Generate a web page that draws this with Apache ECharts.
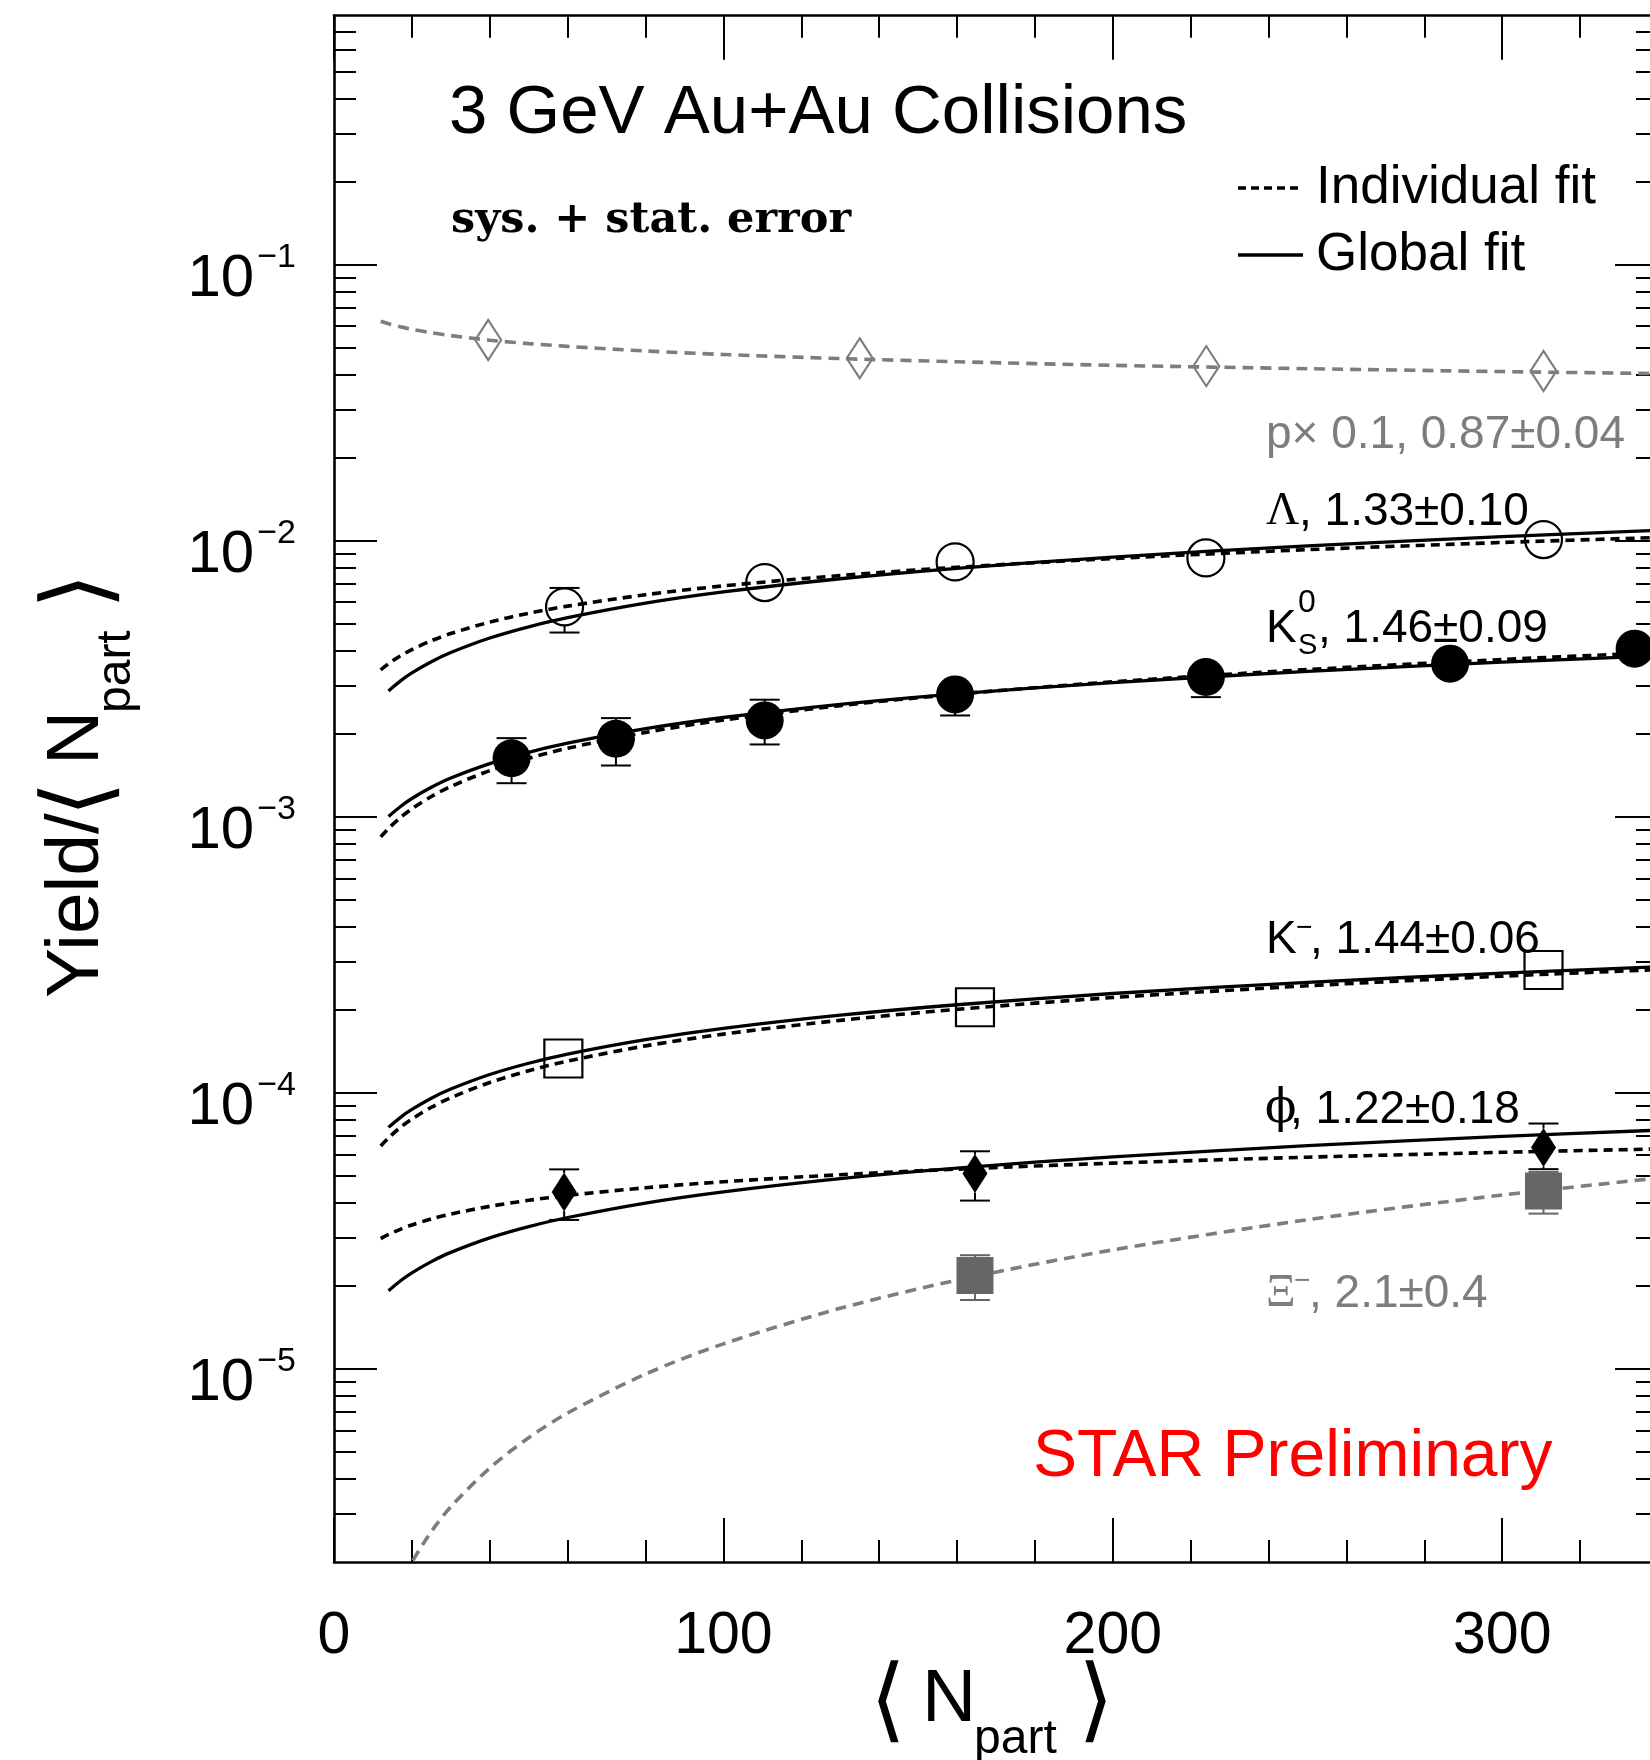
<!DOCTYPE html>
<html>
<head>
<meta charset="utf-8">
<script src="https://cdn.jsdelivr.net/npm/echarts@6/dist/echarts.min.js"></script>
<style>
  html, body { margin: 0; padding: 0; background: #fff; overflow: hidden; }
  #chart { width: 1650px; height: 1760px; }
</style>
</head>
<body>
<div id="chart"></div>
<script>
// axis ranges / ticks
const xMin = 0, xMax = 340;
const yMin = 2e-6, yMax = 0.8;
const xMajorTicks = [0, 100, 200, 300];
const xMinorTicks = [20, 40, 60, 80, 120, 140, 160, 180, 220, 240, 260, 280, 320];
const yMajorTicks = [1e-5, 1e-4, 1e-3, 1e-2, 1e-1];

const fitN = [12, 14, 17, 20, 25, 30, 40, 50, 60, 80, 100, 130, 160, 200, 250, 300, 340];
const globalN = [14, 17, 20, 25, 30, 40, 50, 60, 80, 100, 130, 160, 200, 250, 300, 340];
const xiFitN = [18, 20, 25, 30, 40, 50, 60, 80, 100, 130, 160, 200, 250, 300, 340];

// individual fits (dashed)
const protonFit = [0.0625, 0.0612, 0.0597, 0.0585, 0.0568, 0.0555, 0.0534, 0.0519, 0.0507, 0.0488, 0.0474, 0.0458, 0.0446, 0.0433, 0.0421, 0.0411, 0.0404];
const lambdaFit = [3.415e-3, 3.593e-3, 3.831e-3, 4.042e-3, 4.351e-3, 4.620e-3, 5.082e-3, 5.470e-3, 5.809e-3, 6.387e-3, 6.876e-3, 7.498e-3, 8.030e-3, 8.642e-3, 9.302e-3, 9.877e-3, 1.030e-2];
const k0sFit = [8.47e-4, 9.09e-4, 9.94e-4, 1.071e-3, 1.187e-3, 1.290e-3, 1.473e-3, 1.632e-3, 1.775e-3, 2.026e-3, 2.245e-3, 2.533e-3, 2.787e-3, 3.089e-3, 3.422e-3, 3.722e-3, 3.943e-3];
const kmFit = [6.43e-5, 6.88e-5, 7.50e-5, 8.05e-5, 8.88e-5, 9.62e-5, 1.092e-4, 1.205e-4, 1.306e-4, 1.482e-4, 1.635e-4, 1.834e-4, 2.010e-4, 2.218e-4, 2.447e-4, 2.651e-4, 2.801e-4];
const phiFit = [2.969e-5, 3.073e-5, 3.209e-5, 3.328e-5, 3.498e-5, 3.644e-5, 3.887e-5, 4.086e-5, 4.256e-5, 4.538e-5, 4.771e-5, 5.060e-5, 5.300e-5, 5.571e-5, 5.856e-5, 6.100e-5, 6.273e-5];
const xiFit = [1.78e-6, 2.00e-6, 2.58e-6, 3.17e-6, 4.38e-6, 5.64e-6, 6.93e-6, 9.59e-6, 1.234e-5, 1.660e-5, 2.099e-5, 2.702e-5, 3.475e-5, 4.272e-5, 4.920e-5];

// global fits (solid)
const lambdaGlobal = [2.863e-3, 3.106e-3, 3.326e-3, 3.652e-3, 3.943e-3, 4.451e-3, 4.888e-3, 5.276e-3, 5.954e-3, 6.539e-3, 7.299e-3, 7.965e-3, 8.747e-3, 9.607e-3, 1.0373e-2, 1.0932e-2];
const k0sGlobal = [1.005e-3, 1.090e-3, 1.167e-3, 1.281e-3, 1.384e-3, 1.561e-3, 1.715e-3, 1.851e-3, 2.089e-3, 2.294e-3, 2.561e-3, 2.795e-3, 3.069e-3, 3.370e-3, 3.639e-3, 3.836e-3];
const kmGlobal = [7.51e-5, 8.15e-5, 8.72e-5, 9.58e-5, 1.034e-4, 1.167e-4, 1.282e-4, 1.384e-4, 1.561e-4, 1.715e-4, 1.914e-4, 2.089e-4, 2.294e-4, 2.519e-4, 2.720e-4, 2.867e-4];
const phiGlobal = [1.922e-5, 2.085e-5, 2.232e-5, 2.451e-5, 2.647e-5, 2.987e-5, 3.281e-5, 3.541e-5, 3.996e-5, 4.388e-5, 4.899e-5, 5.346e-5, 5.871e-5, 6.447e-5, 6.962e-5, 7.337e-5];

// measured points
const protonN = [39.6, 135, 224, 310.6];
const protonY = [0.0535, 0.0459, 0.0430, 0.0413];
const lambdaN = [59.2, 110.6, 159.5, 223.9, 310.6];
const lambdaY = [5.77e-3, 7.07e-3, 8.40e-3, 8.68e-3, 1.012e-2];
const lambdaLo = [4.66e-3, 6.75e-3, 8.0e-3, 8.3e-3, 9.7e-3];
const lambdaHi = [6.76e-3, 7.4e-3, 8.8e-3, 9.1e-3, 1.055e-2];
const k0sN = [45.6, 72.4, 110.6, 159.5, 223.9, 286.6, 334];
const k0sY = [1.633e-3, 1.922e-3, 2.239e-3, 2.781e-3, 3.214e-3, 3.594e-3, 4.074e-3];
const k0sLo = [1.326e-3, 1.537e-3, 1.832e-3, 2.333e-3, 2.719e-3, 3.35e-3, 3.80e-3];
const k0sHi = [1.931e-3, 2.282e-3, 2.661e-3, 3.23e-3, 3.71e-3, 3.84e-3, 4.35e-3];
const kmN = [58.9, 164.6, 310.6];
const kmY = [1.334e-4, 2.046e-4, 2.791e-4];
const phiN = [59.1, 164.6, 310.6];
const phiY = [4.376e-5, 5.107e-5, 6.345e-5];
const phiLo = [3.470e-5, 4.077e-5, 5.30e-5];
const phiHi = [5.290e-5, 6.152e-5, 7.755e-5];
const xiN = [164.6, 310.6];
const xiY = [2.182e-5, 4.418e-5];
const xiLo = [1.779e-5, 3.658e-5];
const xiHi = [2.585e-5, 5.18e-5];

const GRAY = '#7d7d7d';
const SANS = 'Liberation Sans';

const yMinorTicks = [];
for (let e = -6; e <= -1; e++) {
  for (let m = 2; m <= 9; m++) {
    const v = m * Math.pow(10, e);
    if (v > yMin && v < yMax) yMinorTicks.push(Math.log10(v));
  }
}

const chart = echarts.init(document.getElementById('chart'));

function zip(xs, ys) {
  return xs.map((x, i) => [x, ys[i]]);
}

function fitLine(xs, ys, color, dashed) {
  let type = 'solid';
  if (dashed) type = color === GRAY ? [11, 7] : [9, 6];
  return {
    type: 'line', xAxisIndex: 0, yAxisIndex: 0, z: 2,
    data: zip(xs, ys), symbol: 'none', smooth: 0.3, silent: true,
    lineStyle: { color: color, width: dashed ? 3.6 : 3.3, type: type, opacity: 1 }
  };
}

function points(xs, ys, symbol, size, fill, stroke) {
  return {
    type: 'scatter', xAxisIndex: 0, yAxisIndex: 0, z: 5,
    data: zip(xs, ys), symbol: symbol, symbolSize: size, silent: true,
    itemStyle: { color: fill, borderColor: stroke, borderWidth: fill === 'none' ? 2.2 : 0, opacity: 1 }
  };
}

// error bars, drawn only outside the marker
function errBars(xs, ys, lo, hi, half, color) {
  return {
    type: 'custom', xAxisIndex: 0, yAxisIndex: 0, z: 4, silent: true,
    data: xs.map((x, i) => [x, ys[i], lo[i], hi[i]]),
    renderItem: function (params, api) {
      const c = api.coord([api.value(0), api.value(1)]);
      const pl = api.coord([api.value(0), api.value(2)]);
      const ph = api.coord([api.value(0), api.value(3)]);
      const st = { stroke: color, lineWidth: 2 };
      const kids = [];
      if (c[1] - ph[1] > half) {
        kids.push({ type: 'line', shape: { x1: c[0], y1: c[1] - half, x2: c[0], y2: ph[1] }, style: st });
        kids.push({ type: 'line', shape: { x1: c[0] - 15, y1: ph[1], x2: c[0] + 15, y2: ph[1] }, style: st });
      }
      if (pl[1] - c[1] > half) {
        kids.push({ type: 'line', shape: { x1: c[0], y1: c[1] + half, x2: c[0], y2: pl[1] }, style: st });
        kids.push({ type: 'line', shape: { x1: c[0] - 15, y1: pl[1], x2: c[0] + 15, y2: pl[1] }, style: st });
      }
      return { type: 'group', children: kids };
    }
  };
}

// text with its baseline at y
function txt(x, y, text, size, color, family, weight) {
  return {
    type: 'text', x: x, y: y - 0.345 * size, silent: true,
    style: {
      text: text, fontSize: size, fontFamily: family || SANS, fontWeight: weight || 'normal',
      fill: color || '#000', verticalAlign: 'middle', align: 'left'
    }
  };
}

function bracket(x, y, ch) {
  return {
    type: 'text', x: x, y: y, silent: true,
    style: { text: ch, fontSize: 92, fontFamily: 'DejaVu Sans', fontWeight: 200, fill: '#000', verticalAlign: 'middle', align: 'left' }
  };
}

// ⟨ N_part ⟩ built from its pieces, origin at the left bracket, baseline 0
function nPart(x0) {
  return [
    bracket(x0 - 7, -20, '\u27E8'),
    txt(x0 + 45, 0, 'N', 75),
    txt(x0 + 97, 30, 'part', 48),
    bracket(x0 + 201, -20, '\u27E9')
  ];
}

function tickAxis(dim, position, values, len, withLine, withLabel) {
  const ax = {
    type: 'value', position: position,
    min: dim === 'x' ? xMin : Math.log10(yMin),
    max: dim === 'x' ? xMax : Math.log10(yMax),
    splitLine: { show: false },
    axisLine: { show: withLine, onZero: false, lineStyle: { color: '#000', width: 2.6 } },
    axisTick: { show: true, inside: true, length: len, customValues: values, lineStyle: { color: '#000', width: 2 } },
    axisLabel: { show: false }
  };
  if (withLabel && dim === 'x') {
    ax.axisLabel = {
      show: true, customValues: values, margin: 45,
      fontSize: 59, fontFamily: SANS, color: '#000'
    };
  }
  if (withLabel && dim === 'y') {
    ax.axisLabel = {
      show: true, customValues: values, margin: 38,
      formatter: function (v) {
        return '{b|10}{s|\u2212' + Math.abs(Math.round(v)) + '}';
      },
      rich: {
        b: { fontSize: 60, fontFamily: SANS, color: '#000', padding: [29, 0, 0, 0] },
        s: { fontSize: 34, fontFamily: SANS, color: '#000', verticalAlign: 'top', padding: [20, 0, 0, 3] }
      }
    };
  }
  return ax;
}

const yMajorLog = yMajorTicks.map(v => Math.log10(v));

const option = {
  animation: false,
  backgroundColor: '#fff',
  grid: { left: 334, top: 15.7, width: 1324, height: 1546.3, containLabel: false, outerBoundsMode: 'none' },
  xAxis: [
    tickAxis('x', 'bottom', xMajorTicks, 44, true, true),
    tickAxis('x', 'bottom', xMinorTicks, 22, false, false),
    tickAxis('x', 'top', xMajorTicks, 44, true, false),
    tickAxis('x', 'top', xMinorTicks, 22, false, false)
  ],
  yAxis: [
    // data axis
    { type: 'log', min: yMin, max: yMax, show: false },
    tickAxis('y', 'left', yMajorLog, 43, true, true),
    tickAxis('y', 'left', yMinorTicks, 22, false, false),
    tickAxis('y', 'right', yMajorLog, 43, true, false),
    tickAxis('y', 'right', yMinorTicks, 22, false, false)
  ],
  series: [
    fitLine(fitN, protonFit, GRAY, true),
    fitLine(fitN, lambdaFit, '#000', true),
    fitLine(globalN, lambdaGlobal, '#000', false),
    fitLine(fitN, k0sFit, '#000', true),
    fitLine(globalN, k0sGlobal, '#000', false),
    fitLine(fitN, kmFit, '#000', true),
    fitLine(globalN, kmGlobal, '#000', false),
    fitLine(fitN, phiFit, '#000', true),
    fitLine(globalN, phiGlobal, '#000', false),
    fitLine(xiFitN, xiFit, GRAY, true),

    errBars(lambdaN, lambdaY, lambdaLo, lambdaHi, 18, '#000'),
    errBars(k0sN, k0sY, k0sLo, k0sHi, 18.5, '#000'),
    errBars(phiN, phiY, phiLo, phiHi, 19, '#000'),
    errBars(xiN, xiY, xiLo, xiHi, 18, '#666'),

    points(protonN, protonY, 'diamond', [26, 40], 'none', GRAY),
    points(lambdaN, lambdaY, 'circle', 37, 'none', '#000'),
    points(k0sN, k0sY, 'circle', 38, '#000', '#000'),
    points(kmN, kmY, 'rect', [38, 38], 'none', '#000'),
    points(phiN, phiY, 'diamond', [25, 39], '#000', '#000'),
    points(xiN, xiY, 'rect', [37, 37], '#666', '#666')
  ],
  graphic: [
    txt(449, 138, '3 GeV Au+Au Collisions', 69),
    txt(451, 236, 'sys. + stat. error', 43, '#000', 'DejaVu Serif', 'bold'),

    // legend
    { type: 'line', silent: true, shape: { x1: 1238, y1: 188, x2: 1303, y2: 188 }, style: { stroke: '#000', lineWidth: 3.5, lineDash: [8, 5] } },
    { type: 'line', silent: true, shape: { x1: 1238, y1: 255, x2: 1303, y2: 255 }, style: { stroke: '#000', lineWidth: 3.5 } },
    txt(1316, 207, 'Individual fit', 53),
    txt(1316, 274, 'Global fit', 53),

    // curve labels
    txt(1266, 451, 'p\u00D7 0.1, 0.87\u00B10.04', 46, GRAY),
    txt(1266, 528, '\u039B', 46, '#000', 'Liberation Serif'),
    txt(1299, 528, ', 1.33\u00B10.10', 46),
    txt(1266, 645, 'K', 46),
    txt(1298, 614, '0', 32),
    txt(1298, 656, 'S', 29),
    txt(1318, 645, ', 1.46\u00B10.09', 46),
    txt(1266, 956, 'K', 46),
    txt(1296, 938, '\u2212', 28),
    txt(1310, 956, ', 1.44\u00B10.06', 46),
    txt(1265, 1126, '\u03D5', 46, '#000', 'DejaVu Serif'),
    txt(1290, 1126, ', 1.22\u00B10.18', 46),
    txt(1266, 1310, '\u039E', 46, GRAY, 'Liberation Serif'),
    txt(1294, 1291, '\u2212', 28, GRAY),
    txt(1309, 1310, ', 2.1\u00B10.4', 46, GRAY),

    txt(1033, 1481, 'STAR Preliminary', 66, '#ff0000'),

    // x axis title
    { type: 'group', x: 877, y: 1726, children: nPart(0) },
    // y axis title, reads bottom to top
    {
      type: 'group', x: 103, y: 998, rotation: Math.PI / 2,
      children: [txt(0, 0, 'Yield/', 75)].concat(nPart(188))
    }
  ]
};

chart.setOption(option);
</script>
</body>
</html>
